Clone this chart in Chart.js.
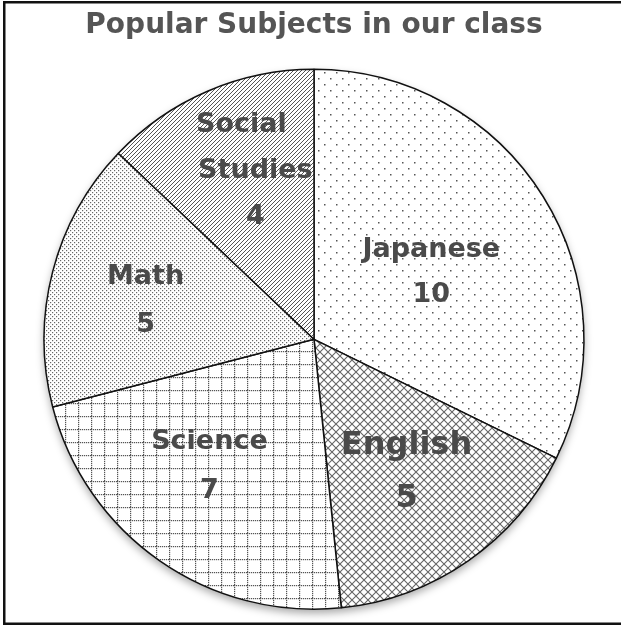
<!DOCTYPE html>
<html><head><meta charset="utf-8">
<script src="https://cdn.jsdelivr.net/npm/chart.js@4/dist/chart.umd.min.js"></script>
<style>html,body{margin:0;padding:0;background:#fff;overflow:hidden;}#wrap{width:621px;height:626px;}</style>
</head><body><div id="wrap"><canvas id="c" width="621" height="626"></canvas></div>
<script>
const categories = ["Japanese", "English", "Science", "Math", "Social Studies"];
const values = [10, 5, 7, 5, 4];
const labelLines = [["Japanese", "10"], ["English", "5"], ["Science", "7"], ["Math", "5"], ["Social", "Studies", "4"]];
const titleText = "Popular Subjects in our class";

function makePattern(kind) {
  const t = document.createElement('canvas');
  const g = t.getContext('2d');
  let s;
  if (kind === 'sparseDots') {
    s = 12; t.width = t.height = s;
    g.fillStyle = '#fff'; g.fillRect(0,0,s,s);
    g.fillStyle = '#555';
    g.fillRect(0,0,1.5,1.5); g.fillRect(6,6,1.5,1.5);
  } else if (kind === 'diamond') {
    s = 8; t.width = t.height = s;
    g.fillStyle = '#fff'; g.fillRect(0,0,s,s);
    g.strokeStyle = '#666'; g.lineWidth = 1.1;
    g.beginPath(); g.moveTo(0,0); g.lineTo(s,s); g.moveTo(s,0); g.lineTo(0,s); g.stroke();
  } else if (kind === 'grid') {
    s = 13; t.width = t.height = s;
    g.fillStyle = '#fff'; g.fillRect(0,0,s,s);
    g.fillStyle = '#555';
    for (let i = 0; i < s; i += 2) { g.fillRect(i,0,1.2,1.2); g.fillRect(0,i,1.2,1.2); }
  } else if (kind === 'denseDots') {
    s = 4; t.width = t.height = s;
    g.fillStyle = '#fff'; g.fillRect(0,0,s,s);
    g.fillStyle = '#666';
    g.fillRect(0,0,1.2,1.2); g.fillRect(2,2,1.2,1.2);
  } else if (kind === 'hatch') {
    s = 4; t.width = t.height = s;
    g.fillStyle = '#fff'; g.fillRect(0,0,s,s);
    g.strokeStyle = '#555'; g.lineWidth = 1;
    g.beginPath();
    g.moveTo(-1,s+1); g.lineTo(s+1,-1);
    g.moveTo(-1,1); g.lineTo(1,-1);
    g.moveTo(s-1,s+1); g.lineTo(s+1,s-1);
    g.stroke();
  }
  const ctx = document.getElementById('c').getContext('2d');
  return ctx.createPattern(t, 'repeat');
}
const patterns = [makePattern('sparseDots'), makePattern('diamond'), makePattern('grid'), makePattern('denseDots'), makePattern('hatch')];

const FONT = "'DejaVu Sans', sans-serif";

const frame = {
  id: 'frame',
  beforeDraw(chart) {
    const ctx = chart.ctx;
    ctx.save();
    ctx.fillStyle = '#fff'; ctx.fillRect(0,0,chart.width,chart.height);
    ctx.fillStyle = '#111';
    ctx.fillRect(3,1,618,2.5);
    ctx.fillRect(3,1,2.5,624);
    ctx.fillRect(3,622.5,618,2.5);
    ctx.restore();
  },
  beforeDatasetsDraw(chart) {
    const a = chart.getDatasetMeta(0).data[0];
    if (!a) return;
    const ctx = chart.ctx;
    ctx.save();
    ctx.shadowColor = 'rgba(0,0,0,0.35)'; ctx.shadowBlur = 8; ctx.shadowOffsetY = 4;
    ctx.beginPath(); ctx.arc(a.x, a.y, a.outerRadius, 0, Math.PI*2);
    ctx.fillStyle = '#fff'; ctx.fill();
    ctx.restore();
  }
};

const sliceLabels = {
  id: 'sliceLabels',
  afterDatasetsDraw(chart, args, opts) {
    const ctx = chart.ctx;
    const meta = chart.getDatasetMeta(0);
    ctx.save();
    ctx.fillStyle = '#4a4a4a';
    ctx.textAlign = 'center'; ctx.textBaseline = 'middle';
    meta.data.forEach((arc, i) => {
      const mid = (arc.startAngle + arc.endAngle) / 2 + opts.angleShift[i];
      const r = arc.outerRadius * opts.radius[i];
      const cx = arc.x + Math.cos(mid) * r;
      const cy = arc.y + Math.sin(mid) * r;
      const size = opts.size[i];
      const lh = size * opts.lineHeight[i];
      const lines = labelLines[i];
      ctx.font = 'bold ' + size + 'px ' + FONT;
      lines.forEach((ln, k) => {
        const dx = (i === 4 && k === 0) ? -14 : 0;
        ctx.fillText(ln, cx + dx, cy + (k - (lines.length - 1) / 2) * lh);
      });
    });
    ctx.restore();
  }
};

new Chart(document.getElementById('c'), {
  type: 'pie',
  data: {
    labels: categories,
    datasets: [{
      data: values,
      backgroundColor: patterns,
      borderColor: '#111',
      borderWidth: 1.5,
      hoverOffset: 0
    }]
  },
  plugins: [frame, sliceLabels],
  options: {
    responsive: false,
    animation: false,
    devicePixelRatio: 1,
    layout: { padding: { top: 0, bottom: 16, left: 40, right: 33 } },
    plugins: {
      legend: { display: false },
      tooltip: { enabled: false },
      title: {
        display: true,
        text: titleText,
        color: '#555',
        font: { family: FONT, size: 28, weight: 'bold', lineHeight: 1.2 },
        padding: { top: 9, bottom: 26 }
      },
      sliceLabels: {
        radius: [0.5, 0.6, 0.61, 0.64, 0.66],
        angleShift: [0.04, 0, 0.08, -0.03, 0.07],
        size: [27, 32, 27, 27, 27],
        lineHeight: [1.68, 1.65, 1.85, 1.75, 1.7]
      }
    }
  }
});
</script></body></html>
